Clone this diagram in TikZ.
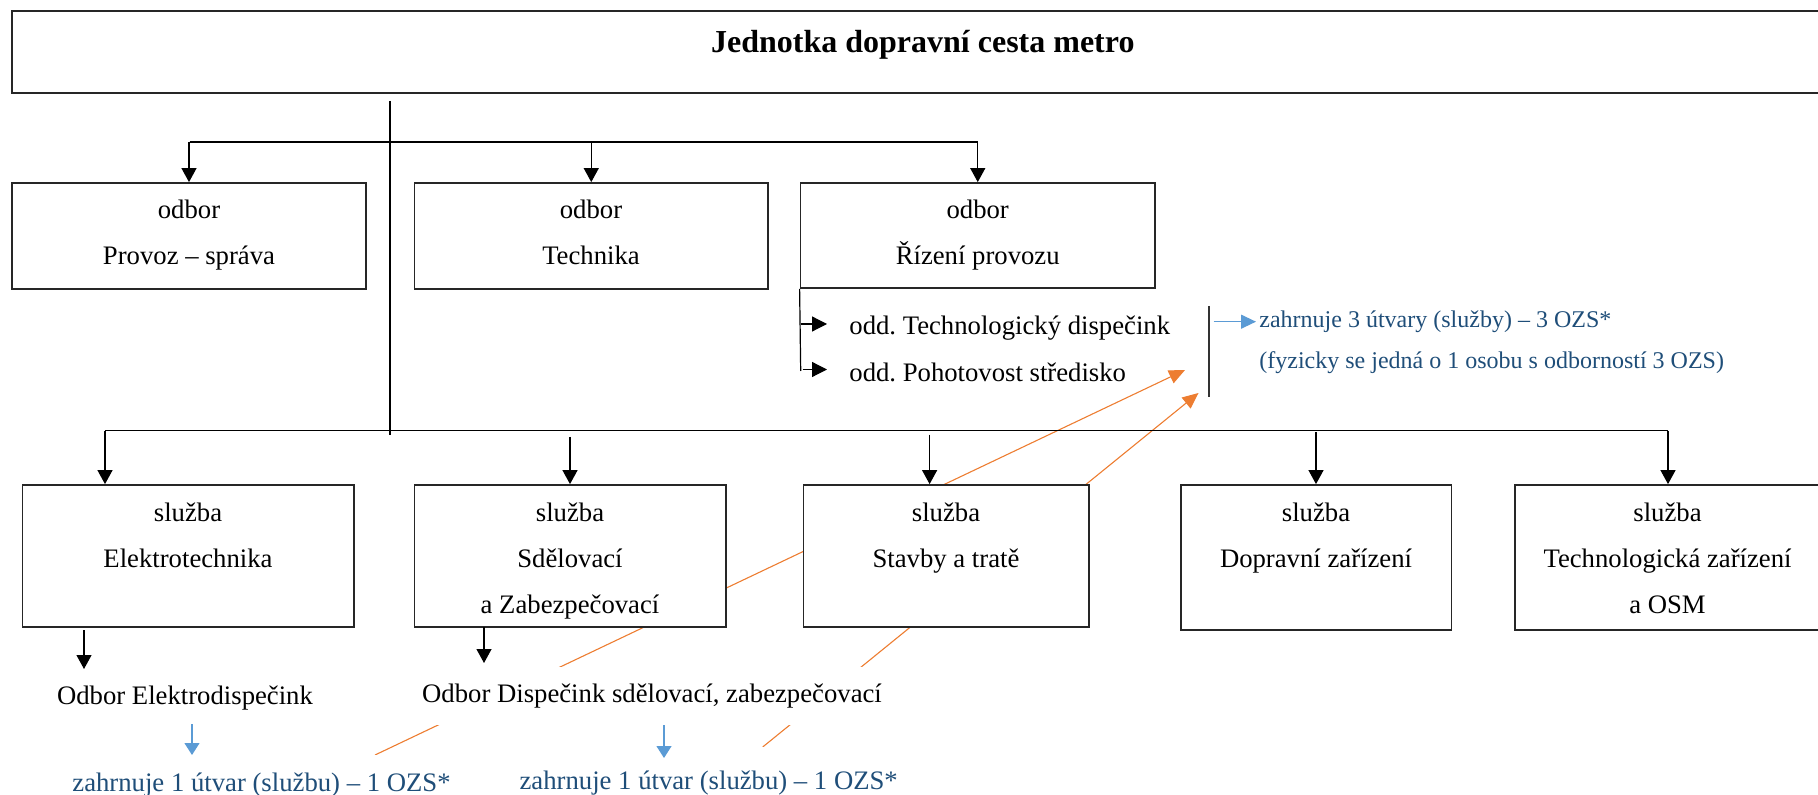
\documentclass[tikz,border=0pt]{standalone}
\usepackage{fontspec}
\setmainfont{Liberation Serif}
\frenchspacing
\usetikzlibrary{arrows.meta,fit}
\definecolor{bluetext}{HTML}{1F4E79}
\definecolor{bluearrow}{HTML}{5B9BD5}
\definecolor{orangeline}{HTML}{ED7D31}
\pgfdeclarelayer{background}
\pgfsetlayers{background,main}
\tikzset{
  box/.style={draw=black!85, line width=0.9pt, fill=white, inner sep=0pt},
  txt/.style={font=\fontsize{13.35pt}{23pt}\selectfont\frenchspacing, align=center, inner sep=0pt, anchor=base},
  titletxt/.style={font=\fontsize{16pt}{19pt}\selectfont\bfseries, inner sep=0pt, anchor=base},
  bluetxt/.style={font=\fontsize{13.35pt}{20pt}\selectfont, text=bluetext, inner sep=0pt},
  bluetxtsmall/.style={font=\fontsize{12pt}{20.5pt}\selectfont, text=bluetext, inner sep=0pt},
  conn/.style={line width=0.6pt, black},
  arr/.style={conn, -{Triangle[length=7pt,width=7.5pt]}},
  sarr/.style={conn, -{Triangle[length=7.5pt,width=7.5pt]}},
  barr/.style={line width=0.6pt, bluearrow, -{Triangle[length=6pt,width=7.5pt]}},
  oarr/.style={line width=0.55pt, orangeline, -{Triangle[length=8pt,width=7pt]}}
}
\begin{document}
\begin{tikzpicture}[x=0.5pt,y=-0.5pt]
\useasboundingbox (0,0) rectangle (1818,795);

% top box
\node[box, fit={(11.6,10.7) (1834,92.7)}] (top) {};
\node[titletxt] (toptxt) at (922.8,52.5) {Jednotka dopravní cesta metro};

% trunk
\coordinate (trunkTop) at (390,101);
\coordinate (trunkBot) at (390,434.7);
\draw[conn] (trunkTop) -- (trunkBot);

% odbor row
\coordinate (h1L) at (189.5,142);
\coordinate (h1R) at (977.7,142);
\draw[conn] (h1L) -- (h1R);
\node[box, fit={(12,183) (366,289)}] (provoz) {};
\node[box, fit={(414.5,183) (768,289)}] (technika) {};
\node[box, fit={(800.5,183) (1155,288)}] (rizeni) {};
\draw[arr] (provoz.north |- h1L) -- (provoz.north);
\draw[arr] (technika.north |- h1L) -- (technika.north);
\draw[arr] (rizeni.north |- h1L) -- (rizeni.north);
% base anchor of a multi-line node = baseline of its last line
\node[txt] (provozT) at (189,264.5) {odbor\\Provoz – správa};
\node[txt] (technikaT) at (591,264.5) {odbor\\Technika};
\node[txt] (rizeniT) at (977.7,264.5) {odbor\\Řízení provozu};

% odd. bracket
\coordinate (brBot) at (800.7,371);
\draw[conn] (rizeni.south west) -- (brBot);
\coordinate (od1s) at (800.7,324);
\coordinate (od1e) at (827,324);
\coordinate (od2s) at (802.5,369.5);
\coordinate (od2e) at (827,369.5);
\draw[sarr] (od1s) -- (od1e);
\draw[sarr] (od2s) -- (od2e);
\node[txt, anchor=base west] (odd1) at (849,335) {odd. Technologický dispečink};
\node[txt, anchor=base west] (odd2) at (849,381.5) {odd. Pohotovost středisko};

% right bracket and blue note
\coordinate (vTop) at (1209,306);
\coordinate (vBot) at (1209,397);
\draw[line width=0.6pt, black!80] (vTop) -- (vBot);
\coordinate (b3s) at (1213.6,321.7);
\coordinate (b3e) at (1256,321.7);
\draw[line width=0.6pt, bluearrow, -{Triangle[length=7.5pt,width=7pt]}] (b3s) -- (b3e);
\node[bluetxtsmall, anchor=base west, align=left] (bt3) at (1259,368.5) {zahrnuje 3 útvary (služby) – 3 OZS*\\(fyzicky se jedná o 1 osobu s odborností 3 OZS)};

% služba row
\coordinate (h2L) at (105,430.7);
\coordinate (h2R) at (1668,430.7);
\draw[conn] (h2L) -- (h2R);
\node[box, fit={(22.4,485) (353.6,627)}] (elektro) {};
\node[box, fit={(414.5,485) (726,627)}] (sdel) {};
\node[box, fit={(803.4,485) (1088.6,627)}] (stavby) {};
\node[box, fit={(1180.6,485) (1451.5,630)}] (doprav) {};
\node[box, fit={(1515,485) (1820,630)}] (techno) {};

\coordinate (a2) at (570,437);
\coordinate (a3) at (929.6,434.7);
\coordinate (a4) at (1316,432);
\draw[arr] (h2L) -- (h2L |- elektro.north);
\draw[arr] (a2) -- (a2 |- sdel.north);
\draw[arr] (a3) -- (a3 |- stavby.north);
\draw[arr] (a4) -- (a4 |- doprav.north);
\draw[arr] (h2R) -- (h2R |- techno.north);

\node[txt] (elektroT) at (188,567.5) {služba\\Elektrotechnika};
\node[txt] (sdelT) at (570,613.5) {služba\\Sdělovací\\a Zabezpečovací};
\node[txt] (stavbyT) at (946,567.5) {služba\\Stavby a tratě};
\node[txt] (dopravT) at (1316,567.5) {služba\\Dopravní zařízení};
\node[txt] (technoT) at (1667.5,613.5) {služba\\Technologická zařízení\\a OSM};

% dispatch level
\node[txt] (elDisp) at (185,704) {Odbor Elektrodispečink};
\node[txt, fill=white, text height=17.85pt, text depth=11.15pt] (sdDisp) at (652,702.7) {Odbor Dispečink sdělovací, zabezpečovací};
\coordinate (d1s) at (84,630);
\coordinate (d1e) at (84,669);
\coordinate (d2s) at (484,627);
\coordinate (d2e) at (484,663);
\draw[arr] (d1s) -- (d1e);
\draw[arr] (d2s) -- (d2e);

% blue notes at bottom
\node[bluetxt, anchor=base, fill=white, text height=18pt, text depth=5pt] (bt1) at (261.5,791) {zahrnuje 1 útvar (službu) – 1 OZS*};
\node[bluetxt, anchor=base, fill=white, text height=21pt, text depth=5pt] (bt2) at (708.7,789) {zahrnuje 1 útvar (službu) – 1 OZS*};
\coordinate (b1s) at (192,724);
\coordinate (b1e) at (192,755);
\coordinate (b2s) at (664,725);
\coordinate (b2e) at (664,758);
\draw[barr] (b1s) -- (b1e);
\draw[barr] (b2s) -- (b2e);

% orange links (behind boxes and texts)
\coordinate (o1s) at (375,755);
\coordinate (o1e) at (1185,370);
\coordinate (o2s) at (762.7,747);
\coordinate (o2e) at (1198.5,393);
\begin{pgfonlayer}{background}
\draw[oarr] (o1s) -- (o1e);
\draw[oarr] (o2s) -- (o2e);
\end{pgfonlayer}
\end{tikzpicture}
\end{document}
